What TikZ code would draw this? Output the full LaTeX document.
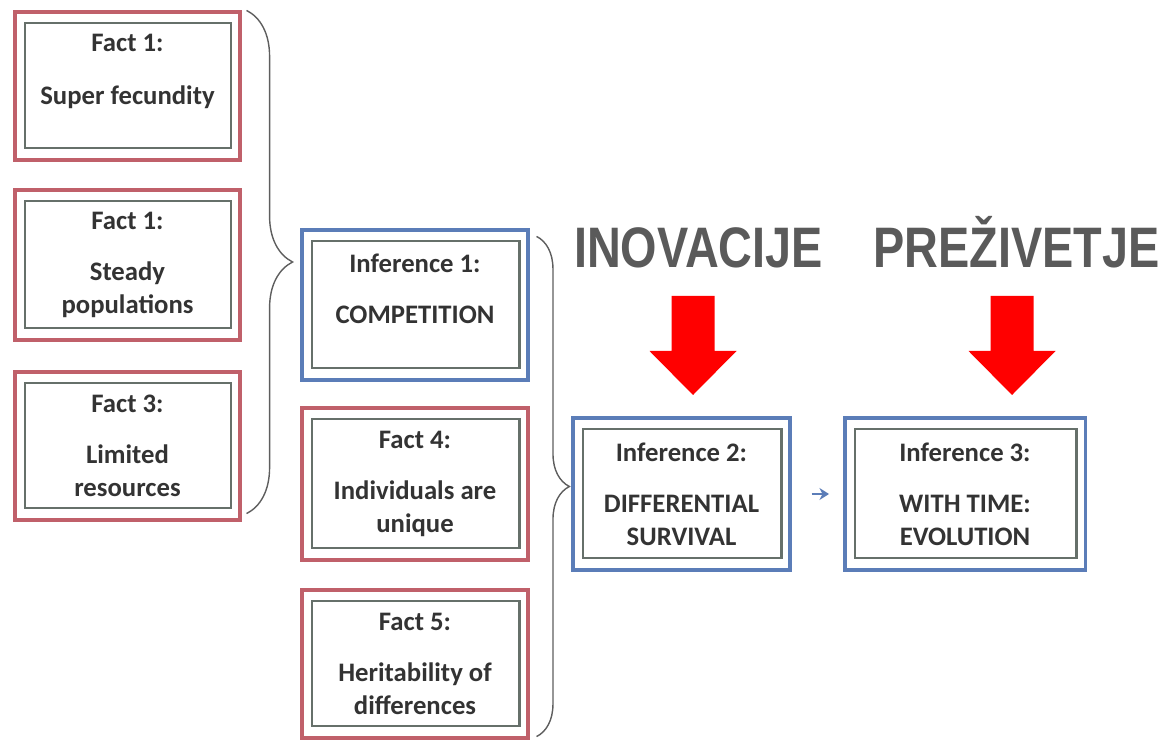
\documentclass[tikz,border=0pt]{standalone}
\usepackage{fontspec}
\setmainfont{Carlito}
\newfontfamily\headfont{Liberation Sans}
\usetikzlibrary{arrows.meta,positioning,calc,decorations.pathreplacing}
\definecolor{FactRed}{HTML}{C0606A}
\definecolor{InfBlue}{HTML}{5B7DB8}
\definecolor{InGray}{HTML}{66706A}
\definecolor{Ink}{HTML}{333333}
\definecolor{HeadGray}{HTML}{5A5A5A}
\definecolor{BlockRed}{HTML}{FF0000}
\definecolor{BraceGray}{HTML}{5E5E5E}
\tikzset{
  >=Stealth,
  fact/.style={rectangle,draw=FactRed,line width=2.2pt,minimum width=5.625cm,minimum height=3.7cm,
    align=center,text=Ink,font=\bfseries\fontsize{19}{23.5}\selectfont,
    path picture={\draw[InGray,line width=1.8pt]
      ([shift={(0.25cm,-0.28cm)}]path picture bounding box.north west) rectangle
      ([shift={(-0.22cm,0.3cm)}]path picture bounding box.south east);}},
  infer/.style={fact,draw=InfBlue},
  heading/.style={anchor=base,text=HeadGray,font=\headfont\bfseries\fontsize{40.6}{48}\selectfont},
  brace/.style={decorate,draw=BraceGray,line width=1pt},
  stepto/.style={-{Stealth[length=0.24cm,width=0.3cm]},draw=InfBlue,line width=2pt,shorten <=0.5cm,shorten >=0.36cm}
}
\begin{document}
\begin{tikzpicture}[x=0.025cm,y=-0.025cm]
  \useasboundingbox (0,0) rectangle (1168,740);
  % facts on the left
  \node[fact] (f1) at (127.5,86) {Fact 1:\\[14pt]Super fecundity\\\mbox{}};
  \node[fact,minimum height=3.75cm] (f2) at (127.5,265) {Fact 1:\\[12.8pt]Steady\\populations};
  \node[fact] (f3) at (127.5,446) {Fact 3:\\[12.8pt]Limited\\resources};
  % middle column
  \node[infer,minimum width=5.65cm,minimum height=3.75cm] (inf1) at (415,305) {Inference 1:\\[12.8pt]COMPETITION\\\mbox{}};
  \node[fact,minimum width=5.65cm,minimum height=3.8cm] (f4) at (415,484) {Fact 4:\\[12.8pt]Individuals are\\unique};
  \node[fact,minimum width=5.65cm] (f5) at (415,664) {Fact 5:\\[12.8pt]Heritability of\\differences};
  % results
  \node[infer,minimum width=5.425cm,minimum height=3.8cm] (inf2) at (681.5,494) {Inference 2:\\[12.8pt]DIFFERENTIAL\\SURVIVAL};
  \node[infer,minimum width=6cm,minimum height=3.8cm] (inf3) at (965,494) {Inference 3:\\[12.8pt]WITH TIME:\\EVOLUTION};
  \draw[stepto] (inf2) -- (inf3);
  % braces
  \draw[brace,decoration={brace,amplitude=1.15cm}] ($(f1.north east)+(5,0)$) -- ($(f3.south east)+(5,-8)$);
  \draw[brace,decoration={brace,amplitude=0.82cm}] ($(inf1.north east)+(7,8)$) -- ($(f5.south east)+(7,-3)$);
  % headings with red block arrows
  \node[heading] (inov) at (698.5,268) {\scalebox{0.82}[1]{INOVACIJE}};
  \node[heading] (prez) at (1016.5,268) {\scalebox{0.82}[1]{PREŽIVETJE}};
  \coordinate (a1) at (693,296);
  \coordinate (a2) at (1012,296);
  \foreach \a in {a1,a2}
    \fill[BlockRed] (\a) ++(-21.5,0) -- ++(43,0) -- ++(0,55) -- ++(22,0) -- ++(-43.5,44)
      -- ++(-43.5,-44) -- ++(22,0) -- cycle;
\end{tikzpicture}
\end{document}
